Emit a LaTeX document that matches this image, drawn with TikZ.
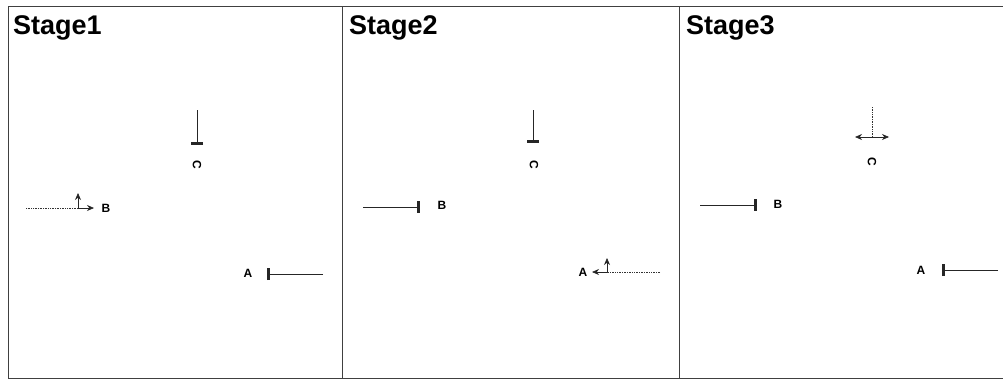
\documentclass[tikz,border=0pt]{standalone}
\usepackage{fontspec}
\setmainfont{Liberation Sans}
\usetikzlibrary{arrows.meta,positioning}

\tikzset{
  frame/.style={black!75,line width=0.8pt},
  stagetitle/.style={font=\bfseries\fontsize{27}{27}\selectfont,inner sep=0pt,anchor=base west},
  lbl/.style={font=\bfseries\fontsize{12}{12}\selectfont,inner sep=1pt},
  stoplane/.style={black!85,line width=0.7pt,-{Bar[width=12pt,line width=2.8pt]}},
  golane/.style={black!80,line width=0.7pt,densely dotted},
  gohead/.style={black!85,line width=0.7pt,-{Stealth[length=7pt,width=6pt]}}
}

\begin{document}
\begin{tikzpicture}[x=1pt,y=-1pt]
  \useasboundingbox (0,0) rectangle (1003,380);

	\draw[frame] (8,6) -- (1003,6); % top
	\draw[frame] (8,378) -- (1003,378); % bottom
	\draw[frame] (8,6) -- (8,378); % left
	\draw[frame] (342,6) -- (342,378); % divider
	\draw[frame] (679,6) -- (679,378); % divider

	\node[stagetitle] (st1) at (13,34) {Stage1};
	\node[stagetitle] (st2) at (349,34) {Stage2};
	\node[stagetitle] (st3) at (686,34) {Stage3};

	% stage 1
	\coordinate (c1s) at (197,110);
	\coordinate (c1e) at (197,145);
	\node[lbl,rotate=-90] (c1) at (197,165) {C};
	\draw[stoplane] (c1s) -- (c1e);

	\coordinate (b1s) at (26,208);
	\coordinate (b1j) at (78,208);
	\coordinate (b1u) at (78,193);
	\coordinate (b1r) at (94,208);
	\node[lbl] (b1) at (106,208) {B};
	\draw[golane] (b1s) -- (b1j);
	\draw[gohead] (b1j) -- (b1u);
	\draw[gohead] (b1j) -- (b1r);

	\coordinate (a1s) at (323,274);
	\coordinate (a1e) at (267,274);
	\node[lbl] (a1) at (248,273) {A};
	\draw[stoplane] (a1s) -- (a1e);

	% stage 2
	\coordinate (c2s) at (533,110);
	\coordinate (c2e) at (533,143);
	\node[lbl,rotate=-90] (c2) at (534,165) {C};
	\draw[stoplane] (c2s) -- (c2e);

	\coordinate (b2s) at (363,207);
	\coordinate (b2e) at (420,207);
	\node[lbl] (b2) at (442,205) {B};
	\draw[stoplane] (b2s) -- (b2e);

	\coordinate (a2s) at (660,272);
	\coordinate (a2j) at (607,272);
	\coordinate (a2u) at (607,258);
	\coordinate (a2e) at (592,272);
	\node[lbl] (a2) at (583,272) {A};
	\draw[golane] (a2s) -- (a2j);
	\draw[gohead] (a2j) -- (a2u);
	\draw[gohead] (a2j) -- (a2e);

	% stage 3
	\coordinate (c3s) at (872,107);
	\coordinate (c3j) at (872,137);
	\coordinate (c3l) at (855,137);
	\coordinate (c3r) at (889,137);
	\node[lbl,rotate=-90] (c3) at (872,162) {C};
	\draw[golane] (c3s) -- (c3j);
	\draw[gohead] (c3j) -- (c3l);
	\draw[gohead] (c3j) -- (c3r);

	\coordinate (b3s) at (700,205);
	\coordinate (b3e) at (757,205);
	\node[lbl] (b3) at (778,204) {B};
	\draw[stoplane] (b3s) -- (b3e);

	\coordinate (a3s) at (998,270);
	\coordinate (a3e) at (942,270);
	\node[lbl] (a3) at (921,270) {A};
	\draw[stoplane] (a3s) -- (a3e);

\end{tikzpicture}
\end{document}
